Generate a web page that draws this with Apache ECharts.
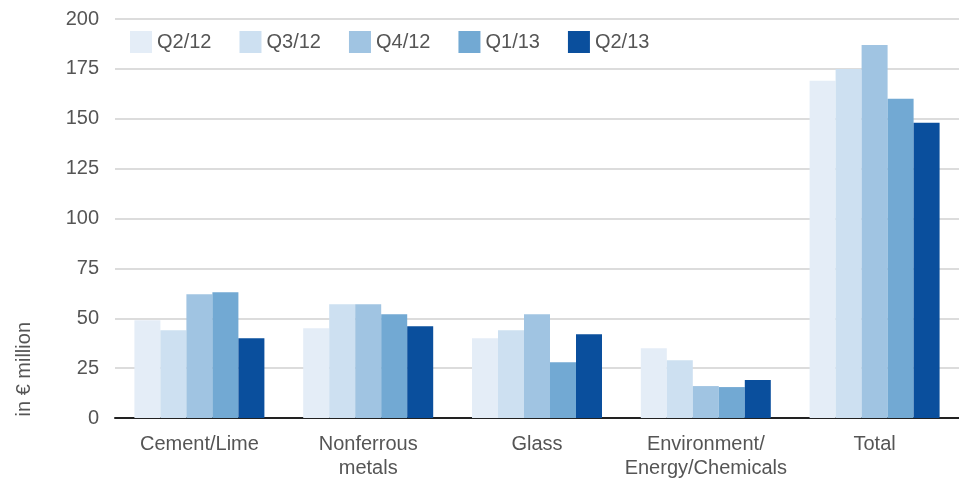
<!DOCTYPE html>
<html>
<head>
<meta charset="utf-8">
<script src="https://cdn.jsdelivr.net/npm/echarts@6/dist/echarts.min.js"></script>
<style>html,body{margin:0;padding:0;background:#fff;}#c{width:959px;height:480px;}</style>
</head>
<body>
<div id="c"></div>
<script>
const categories = ['Cement/Lime', 'Nonferrous\nmetals', 'Glass', 'Environment/\nEnergy/Chemicals', 'Total'];
const seriesNames = ['Q2/12', 'Q3/12', 'Q4/12', 'Q1/13', 'Q2/13'];
const q2_12 = [49, 45, 40, 35, 169];
const q3_12 = [44, 57, 44, 29, 175];
const q4_12 = [62, 57, 52, 16, 187];
const q1_13 = [63, 52, 28, 15.5, 160];
const q2_13 = [40, 46, 42, 19, 148];
const yTicks = [0, 25, 50, 75, 100, 125, 150, 175, 200];
const yAxisTitle = 'in € million';

const colors = ['#e4edf7', '#cde0f1', '#a0c4e2', '#72a9d3', '#0a4f9d'];
const values = [q2_12, q3_12, q4_12, q1_13, q2_13];
const font = 'Liberation Sans';

const chart = echarts.init(document.getElementById('c'), null, {renderer: 'canvas'});
chart.setOption({
  animation: false,
  color: colors,
  textStyle: {fontFamily: font},
  grid: {left: 115, right: 0, top: 19, bottom: 60},
  legend: {
    data: seriesNames,
    left: 130, top: 31, padding: 0,
    itemWidth: 22, itemHeight: 22, itemGap: 28,
    icon: 'rect',
    textStyle: {fontSize: 20, color: '#555', fontFamily: font},
  },
  xAxis: {
    type: 'category',
    data: categories,
    axisLine: {lineStyle: {color: '#222', width: 2}},
    axisTick: {show: false},
    axisLabel: {fontSize: 20, color: '#555', lineHeight: 24, margin: 14, interval: 0}
  },
  yAxis: {
    type: 'value',
    min: yTicks[0], max: yTicks[yTicks.length - 1], interval: 25,
    axisLine: {show: false},
    axisTick: {show: false},
    axisLabel: {fontSize: 20, color: '#555', margin: 16},
    splitLine: {lineStyle: {color: '#d0d0d0', width: 1.5}}
  },
  graphic: [{
    type: 'text',
    left: 14, top: 322,
    rotation: Math.PI / 2,
    style: {text: yAxisTitle, fontSize: 20, fill: '#555', fontFamily: font}
  }],
  series: seriesNames.map((n, i) => ({
    name: n,
    type: 'bar',
    data: values[i],
    barWidth: 26,
    barGap: '0%',
    itemStyle: {color: colors[i]}
  }))
});
</script>
</body>
</html>
